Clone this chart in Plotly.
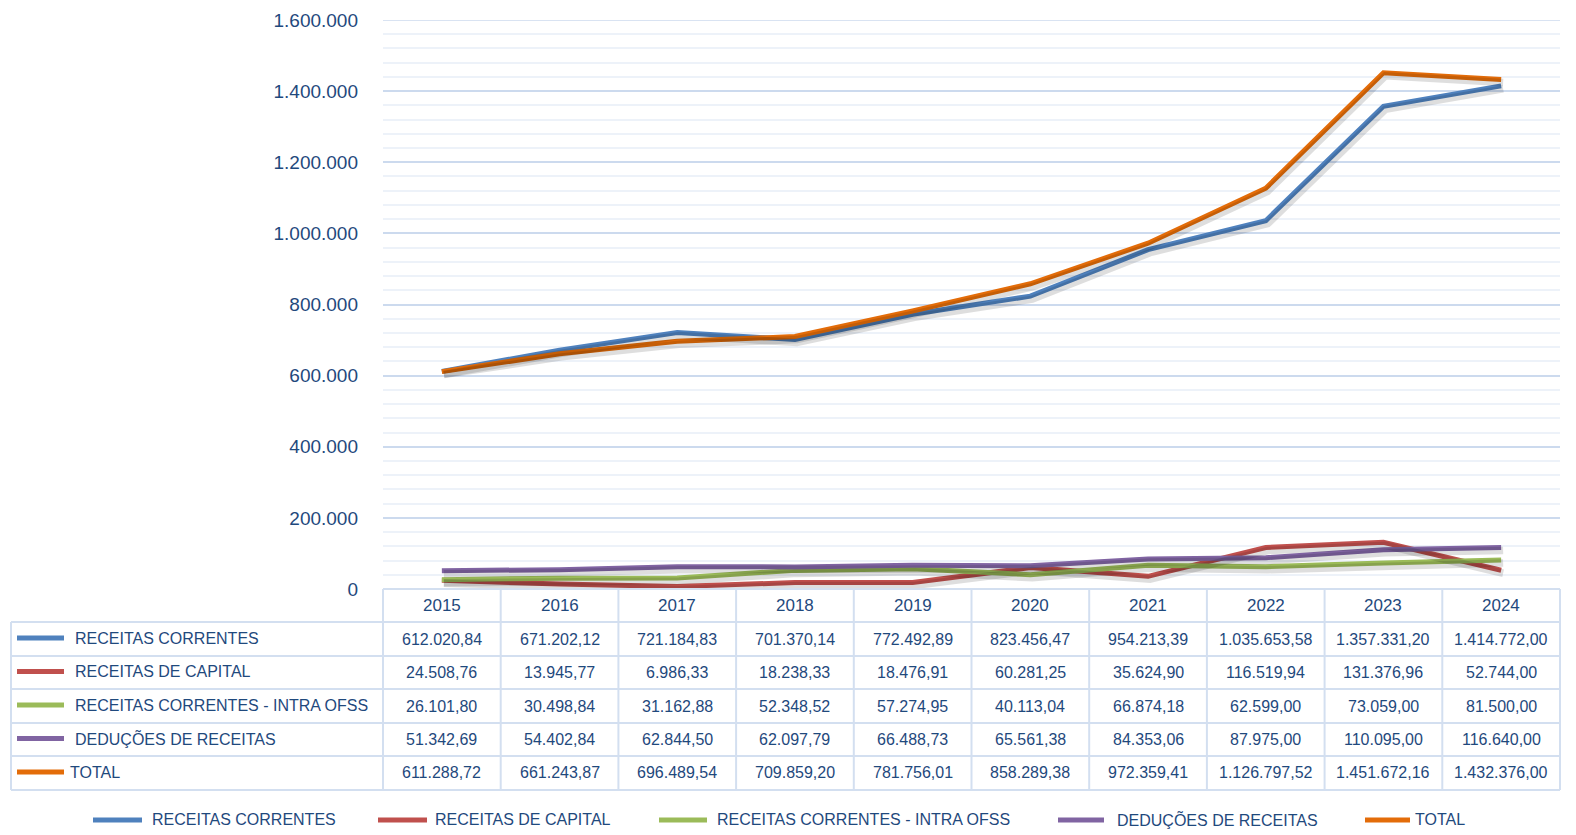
import plotly.graph_objects as go

years = ["2015", "2016", "2017", "2018", "2019", "2020", "2021", "2022", "2023", "2024"]
series_names = ["RECEITAS CORRENTES", "RECEITAS DE CAPITAL", "RECEITAS CORRENTES - INTRA OFSS",
                "DEDUÇÕES DE RECEITAS", "TOTAL"]
receitas_correntes = [612020.84, 671202.12, 721184.83, 701370.14, 772492.89, 823456.47,
                      954213.39, 1035653.58, 1357331.20, 1414772.00]
receitas_capital = [24508.76, 13945.77, 6986.33, 18238.33, 18476.91, 60281.25,
                    35624.90, 116519.94, 131376.96, 52744.00]
receitas_intra = [26101.80, 30498.84, 31162.88, 52348.52, 57274.95, 40113.04,
                  66874.18, 62599.00, 73059.00, 81500.00]
deducoes = [51342.69, 54402.84, 62844.50, 62097.79, 66488.73, 65561.38,
            84353.06, 87975.00, 110095.00, 116640.00]
total = [611288.72, 661243.87, 696489.54, 709859.20, 781756.01, 858289.38,
         972359.41, 1126797.52, 1451672.16, 1432376.00]
series_values = [receitas_correntes, receitas_capital, receitas_intra, deducoes, total]
colors = ["#4F81BD", "#C0504D", "#9BBB59", "#8064A2", "#E36C09"]

TEXT = "#1F497D"
FONT = "Liberation Sans"
GRID_MAJOR = "#CCDAEE"
GRID_MINOR = "#EDF2F9"
BORDER = "#D3DFF0"

OFF = 8  # page body margin
W, H = 1576 - OFF, 835 - OFF
X0, X1, Y0, Y1 = 383, 1560, 20, 589   # plot area in page pixels
YMAX = 1600000


def px(x):
    return (x - X0) / (X1 - X0)


def py(y):
    return (Y1 - y) / (Y1 - Y0)


def br(v):
    s = f"{v:,.2f}"
    return s.replace(",", "X").replace(".", ",").replace("X", ".")


fig = go.Figure()

# soft shadows (same data on slightly shifted overlay axes)
dx = 2.0 * 10 / (X1 - X0)
dy = 3.0 * YMAX / (Y1 - Y0)
for vals in series_values:
    fig.add_trace(go.Scatter(x=years, y=vals, mode="lines", xaxis="x2", yaxis="y2",
                             line=dict(color="rgba(0,0,0,0.13)", width=7.5),
                             hoverinfo="skip", showlegend=False))

for name, vals, c in zip(series_names, series_values, colors):
    fig.add_trace(go.Scatter(x=years, y=vals, mode="lines", name=name,
                             line=dict(color=c, width=5), showlegend=False))

shapes = []
annotations = []

# top major gridline (at the range edge)
shapes.append(dict(type="line", xref="paper", yref="y", x0=0, x1=1, y0=YMAX, y1=YMAX,
                   line=dict(color=GRID_MAJOR, width=1.5), layer="below"))


def hline(y, xa, xb):
    shapes.append(dict(type="line", xref="paper", yref="paper", x0=px(xa), x1=px(xb),
                       y0=py(y), y1=py(y), line=dict(color=BORDER, width=2), layer="above"))


def vline(x, ya, yb):
    shapes.append(dict(type="line", xref="paper", yref="paper", x0=px(x), x1=px(x),
                       y0=py(ya), y1=py(yb), line=dict(color=BORDER, width=2), layer="above"))


row_tops = [622, 656, 689, 723, 756, 790]
hline(589, X0, X1)
for y in row_tops:
    hline(y, 11, X1)
vline(11, 622, 790)
colw = (X1 - X0) / len(years)
for k in range(len(years) + 1):
    vline(X0 + k * colw, 589, 790)

# header years (positioned on the category axis)
for i, yr in enumerate(years):
    annotations.append(dict(x=i, y=py(605.5), xref="x", yref="paper", text=yr,
                            showarrow=False, xanchor="center", yanchor="middle",
                            font=dict(family=FONT, size=17, color=TEXT)))

# table rows
for r, (name, vals, c) in enumerate(zip(series_names, series_values, colors)):
    yc = (row_tops[r] + row_tops[r + 1]) / 2
    shapes.append(dict(type="line", xref="paper", yref="paper", x0=px(17), x1=px(64),
                       y0=py(yc - 1), y1=py(yc - 1), line=dict(color=c, width=5)))
    tx = 68 if name == "TOTAL" else 73
    annotations.append(dict(x=px(tx), y=py(yc - 1), xref="paper", yref="paper", text=name,
                            showarrow=False, xanchor="left", yanchor="middle",
                            font=dict(family=FONT, size=16, color=TEXT)))
    for i, v in enumerate(vals):
        annotations.append(dict(x=i, y=py(yc), xref="x", yref="paper", text=br(v),
                                showarrow=False, xanchor="center", yanchor="middle",
                                font=dict(family=FONT, size=16, color=TEXT)))

# bottom legend
legend_pos = [(93, 142, 150), (378, 427, 433), (659, 707, 715), (1058, 1104, 1115), (1365, 1410, 1413)]
for (sa, sb, tx), name, c in zip(legend_pos, series_names, colors):
    shapes.append(dict(type="line", xref="paper", yref="paper", x0=px(sa), x1=px(sb),
                       y0=py(820), y1=py(820), line=dict(color=c, width=5)))
    annotations.append(dict(x=px(tx), y=py(819), xref="paper", yref="paper", text=name,
                            showarrow=False, xanchor="left", yanchor="middle",
                            font=dict(family=FONT, size=16, color=TEXT)))

fig.update_layout(
    width=W, height=H,
    margin=dict(l=X0 - OFF, r=(W + OFF) - X1, t=Y0 - OFF, b=(H + OFF) - Y1, pad=0, autoexpand=False),
    paper_bgcolor="white", plot_bgcolor="white",
    separators=",.",
    showlegend=False,
    xaxis=dict(type="category", range=[-0.5, 9.5], showticklabels=False, showgrid=False,
               zeroline=False, showline=False, ticks="", automargin=False),
    xaxis2=dict(type="category", range=[-0.5 - dx, 9.5 - dx], overlaying="x", visible=False),
    yaxis=dict(range=[0, YMAX], dtick=200000, tickformat=",d", showgrid=True,
               gridcolor=GRID_MAJOR, gridwidth=1.5, zeroline=False, showline=False,
               ticks="", ticklabelstandoff=24, automargin=False,
               tickfont=dict(family=FONT, size=19, color=TEXT),
               minor=dict(dtick=40000, showgrid=True, gridcolor=GRID_MINOR, gridwidth=1.5)),
    yaxis2=dict(range=[dy, YMAX + dy], overlaying="y", visible=False, showgrid=False),
    shapes=shapes,
    annotations=annotations,
)

fig.write_html("out.html")
